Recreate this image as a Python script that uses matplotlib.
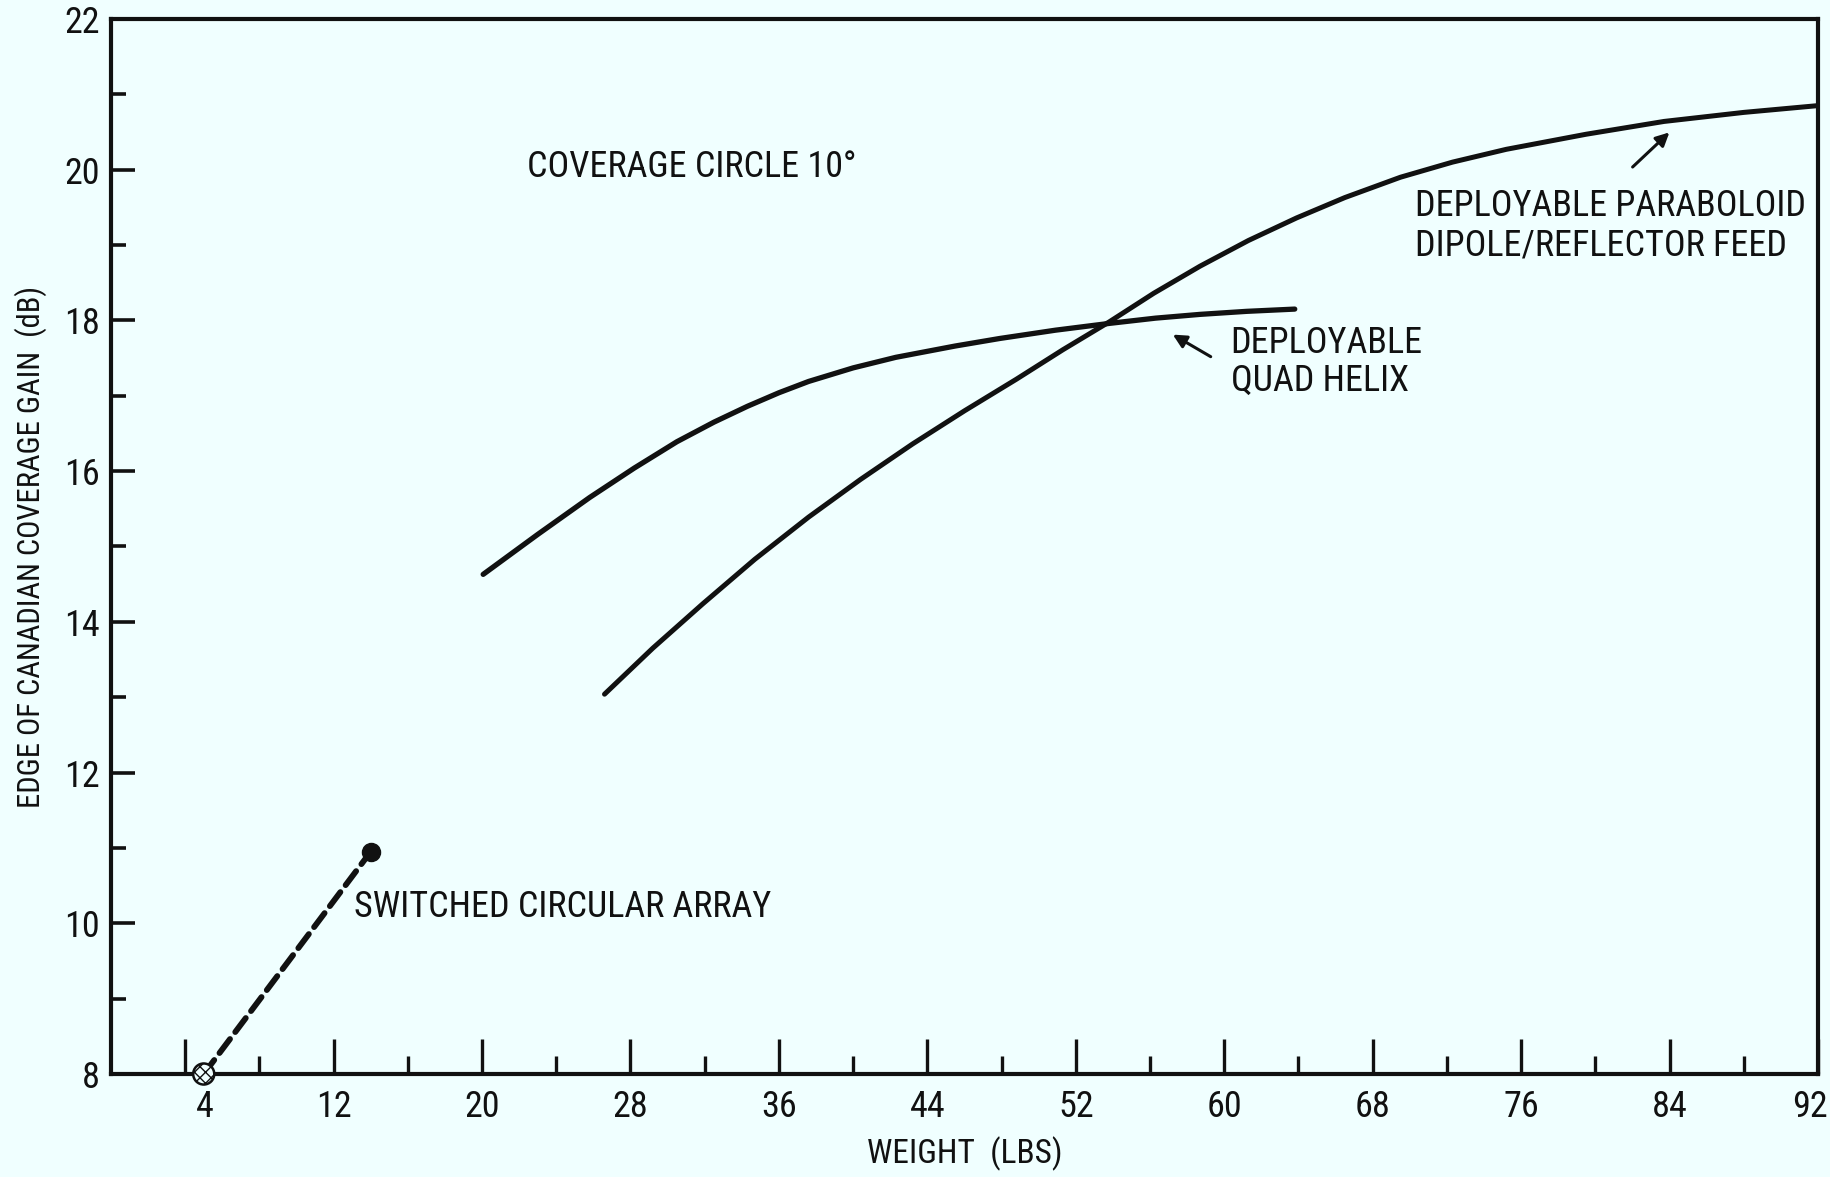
import matplotlib
matplotlib.use("Agg")
import matplotlib.pyplot as plt
from matplotlib.ticker import MultipleLocator, FixedLocator
from matplotlib import font_manager
from matplotlib.font_manager import FontProperties
from matplotlib.transforms import ScaledTranslation

# ---- data ----
quad_x = [20.06, 23.0, 25.8, 28.2, 30.5, 32.5, 34.3, 36.0, 37.6, 40.0, 42.3, 45.5, 47.9, 50.9, 53.8, 56.3, 58.7, 61.2, 63.8]
quad_y = [14.63, 15.16, 15.65, 16.04, 16.39, 16.65, 16.86, 17.04, 17.19, 17.37, 17.51, 17.66, 17.76, 17.87, 17.96, 18.03, 18.08, 18.12, 18.15]

para_x = [26.6, 29.2, 31.9, 34.7, 37.6, 40.4, 43.2, 46.0, 48.8, 51.3, 53.8, 56.2, 58.7, 61.3, 63.9, 66.5, 69.5, 72.3, 75.2, 79.5, 83.7, 88.0, 92.0]
para_y = [13.04, 13.65, 14.24, 14.83, 15.39, 15.89, 16.36, 16.80, 17.22, 17.61, 17.98, 18.36, 18.72, 19.06, 19.36, 19.63, 19.90, 20.10, 20.27, 20.47, 20.64, 20.76, 20.85]

switch_x = [5.0, 14.0]
switch_y = [8.0, 10.95]

x_ticks = [4, 12, 20, 28, 36, 44, 52, 60, 68, 76, 84, 92]
x_tick_labels = [str(v) for v in x_ticks]
x_minor = [8, 16, 24, 32, 40, 48, 56, 64, 72, 80, 88]
y_ticks = [8, 10, 12, 14, 16, 18, 20, 22]

# ---- font: look for a condensed face ----
cond_path = None
cands = []
for f in font_manager.fontManager.ttflist:
    nm = (f.name + ' ' + f.fname).lower()
    if f.weight not in (400, 'normal', 'regular', 'book') or f.style != 'normal':
        continue
    if 'narrow' in nm or 'condensed' in nm or f.stretch in ('condensed', 'semi-condensed', 'extra-condensed'):
        if 'mono' in nm or ('serif' in nm and 'sans' not in nm):
            continue
        cands.append(f)
pref = ['liberation sans narrow', 'roboto condensed', 'open sans condensed', 'dejavu sans condensed', 'noto sans']
cands.sort(key=lambda f: min([i for i, p in enumerate(pref) if p in (f.name + ' ' + f.fname).lower().replace('-', ' ')] + [99]))
if cands:
    cond_path = cands[0].fname

BG = '#F0FFFF'
INK = '#111111'

if cond_path:
    def fp(size):
        return FontProperties(fname=cond_path, size=size)
    S, SY, SX, ST = 26, 22, 24, 26
else:
    def fp(size):
        return FontProperties(family=['Liberation Sans', 'DejaVu Sans'], size=size)
    S, SY, SX, ST = 22, 19, 21, 22

fig = plt.figure(figsize=(18.31, 11.77), dpi=100, facecolor=BG)
ax = fig.add_axes([0.0606, 0.0875, 0.9323, 0.8964], facecolor=BG)

ax.set_xlim(0, 92)
ax.set_ylim(8, 22)

ax.plot(quad_x, quad_y, color=INK, lw=3.8, solid_capstyle='round', zorder=3)
ax.plot(para_x, para_y, color=INK, lw=3.6, solid_capstyle='round', zorder=3)
ax.plot(switch_x, switch_y, color=INK, lw=4.2, linestyle=(0, (3.0, 1.5)),
        dash_capstyle='round', zorder=3)
ax.plot(switch_x[1:], switch_y[1:], 'o', color=INK, ms=13, zorder=4)
ax.scatter(switch_x[:1], switch_y[:1], s=230, facecolor=BG, edgecolor=INK,
           linewidth=1.8, hatch='xxx', zorder=5, clip_on=False)

for s in ax.spines.values():
    s.set_linewidth(3.0)
    s.set_color(INK)

ax.xaxis.set_major_locator(FixedLocator(x_ticks))
ax.set_xticklabels(x_tick_labels)
ax.xaxis.set_minor_locator(FixedLocator(x_minor))
ax.yaxis.set_major_locator(FixedLocator(y_ticks))
ax.yaxis.set_minor_locator(MultipleLocator(1))

ax.tick_params(axis='x', which='major', direction='in', length=25, width=2.4,
               pad=11, colors=INK)
ax.tick_params(axis='x', which='minor', direction='in', length=13, width=2.4, colors=INK)
ax.tick_params(axis='y', which='major', direction='in', length=17, width=2.6,
               pad=8, colors=INK)
ax.tick_params(axis='y', which='minor', direction='in', length=11, width=2.6, colors=INK)
for lbl in ax.get_xticklabels() + ax.get_yticklabels():
    lbl.set_fontproperties(fp(ST))

# the "4" label sits under the marker, slightly right of its tick;
# the "92" label is pulled in a little so it stays on the page
majors = ax.xaxis.get_major_ticks()
majors[0].label1.set_transform(majors[0].label1.get_transform() + ScaledTranslation(0.2, 0, fig.dpi_scale_trans))
majors[-1].label1.set_transform(majors[-1].label1.get_transform() + ScaledTranslation(-0.08, 0, fig.dpi_scale_trans))

ax.set_xlabel('WEIGHT  (LBS)', fontproperties=fp(SX), color=INK, labelpad=8)
ax.set_ylabel('EDGE OF CANADIAN COVERAGE GAIN  (dB)', fontproperties=fp(SY), color=INK, labelpad=12)

tk = dict(fontproperties=fp(S), color=INK, va='center', ha='left')
ax.text(22.4, 20.03, 'COVERAGE CIRCLE 10°', **tk)
ax.text(70.3, 19.52, 'DEPLOYABLE PARABOLOID', **tk)
ax.text(70.3, 19.00, 'DIPOLE/REFLECTOR FEED', **tk)
ax.text(60.35, 17.70, 'DEPLOYABLE', **tk)
ax.text(60.35, 17.20, 'QUAD HELIX', **tk)
ax.text(13.1, 10.21, 'SWITCHED CIRCULAR ARRAY', **tk)

arr = dict(arrowstyle='-|>', color=INK, lw=2.2, mutation_scale=20)
ax.annotate('', xy=(84.1, 20.52), xytext=(81.9, 20.01), arrowprops=arr)
ax.annotate('', xy=(57.1, 17.83), xytext=(59.4, 17.50), arrowprops=arr)

fig.savefig('out.png', dpi=100, facecolor=BG)
